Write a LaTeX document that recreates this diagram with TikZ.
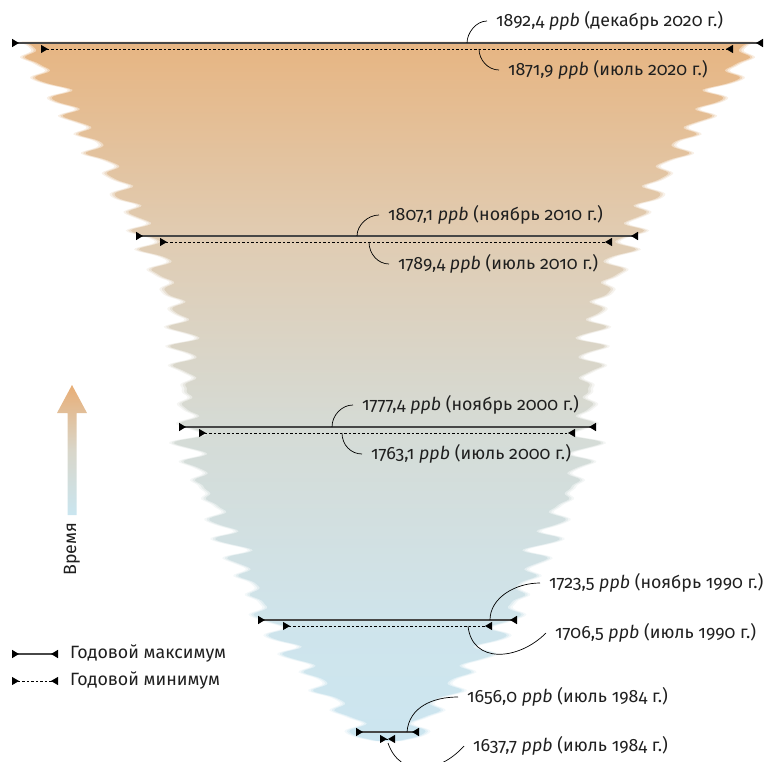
\documentclass[tikz,border=0pt]{standalone}
\usepackage{fontspec}
\setmainfont{Fira Sans}[Numbers=OldStyle]
\usetikzlibrary{arrows.meta}
\pgfdeclareverticalshading{funnelshade}{100bp}{rgb(0bp)=(0.80,0.90,0.94); rgb(25bp)=(0.80,0.90,0.94); rgb(33bp)=(0.81,0.895,0.925); rgb(47bp)=(0.835,0.86,0.84); rgb(61bp)=(0.88,0.80,0.70); rgb(75bp)=(0.905,0.71,0.51); rgb(100bp)=(0.905,0.71,0.51)}
\pgfdeclareverticalshading{arrowshade}{100bp}{rgb(0bp)=(0.79,0.90,0.94); rgb(25bp)=(0.79,0.90,0.94); rgb(50bp)=(0.85,0.84,0.79); rgb(75bp)=(0.91,0.68,0.46); rgb(100bp)=(0.91,0.68,0.46)}
\begin{document}
\begin{tikzpicture}[x=1pt,y=-1pt,
  font=\fontsize{17.8}{20}\selectfont,
  declare function={
    trend(\t)=1647+0.9442*\t-0.4242*max(\t-72,0)-0.4308*max(\t-174,0)+0.3692*max(\t-264,0)+0.1133*max(\t-312,0)+0.1975*max(\t-354,0);
    seas(\t)=-6.5*cos(30*\t)+2.5*sin(30*\t)*cos(30*\t);
    nz(\t)=2.4*sin(23.7*\t)+2*sin(35.3*\t)+1.6*sin(13.9*\t+40);
    hw(\t)=max(1.453*(trend(\t)+seas(\t)+nz(\t)-1634.7),1);
    yy(\t)=741-1.6*\t;
  },
  endtip/.style={arrows={Triangle[reversed,length=7pt,width=8pt,color=black]-Triangle[reversed,length=7pt,width=8pt,color=black]}},
  maxline/.style={draw=black!72, line width=1.5pt, endtip},
  minline/.style={draw=black, line width=0.9pt, dash pattern=on 2.5pt off 2pt, endtip},
  leader/.style={draw=black, line width=0.7pt},
  lab/.style={anchor=west, inner xsep=9pt, inner ysep=0pt, text=black!88},
  legtext/.style={anchor=west, inner sep=0pt, text=black!88}
]
\useasboundingbox (0,0) rectangle (771,762);

% funnel shape
\foreach \ex/\op in {5/0.25, 2.5/0.45, 0/1}{
  \path[shade, shading=funnelshade, opacity=\op]
    plot[domain=0:437, samples=438, variable=\u] ({387.5-hw(\u)-\ex},{yy(\u)})
    -- plot[domain=0:437, samples=438, variable=\u] ({387.5+hw(437-\u)+\ex},{yy(437-\u)})
    -- cycle;
}

% time arrow
\shade[shading=arrowshade] (67.5,515) -- (67.5,413) -- (57,413) -- (72,385) -- (87,413) -- (76.5,413) -- (76.5,515) -- cycle;
\node[rotate=90, text=black!88] (vremya) at (72,549) {Время};

% 2020
\coordinate (a20) at (12,43); \coordinate (b20) at (763,43);
\coordinate (c20) at (41,49); \coordinate (d20) at (733,49);
\draw[maxline] (a20) -- (b20);
\draw[minline] (c20) -- (d20);
\node[lab] (l20max) at (487,21) {1892,4 \textit{ppb} (декабрь 2020 г.)};
\node[lab] (l20min) at (499,70) {1871,9 \textit{ppb} (июль 2020 г.)};
\coordinate (p20max) at (467,43); \coordinate (p20min) at (479,49);
\draw[leader] (p20max) .. controls +(0,-10) and +(-11,0) .. (l20max.west);
\draw[leader] (p20min) .. controls +(0,11) and +(-11,0) .. (l20min.west);

% 2010
\coordinate (a10) at (136,236); \coordinate (b10) at (638,236);
\coordinate (c10) at (160,242); \coordinate (d10) at (612,242);
\draw[maxline] (a10) -- (b10);
\draw[minline] (c10) -- (d10);
\node[lab] (l10max) at (379,215) {1807,1 \textit{ppb} (ноябрь 2010 г.)};
\node[lab] (l10min) at (389,264) {1789,4 \textit{ppb} (июль 2010 г.)};
\coordinate (p10max) at (357,236); \coordinate (p10min) at (369,242);
\draw[leader] (p10max) .. controls +(0,-11) and +(-11,0) .. (l10max.west);
\draw[leader] (p10min) .. controls +(0,12) and +(-11,0) .. (l10min.west);

% 2000
\coordinate (a00) at (179,427); \coordinate (b00) at (596,427);
\coordinate (c00) at (199,433); \coordinate (d00) at (575,433);
\draw[maxline] (a00) -- (b00);
\draw[minline] (c00) -- (d00);
\node[lab] (l00max) at (353,405) {1777,4 \textit{ppb} (ноябрь 2000 г.)};
\node[lab] (l00min) at (362,454) {1763,1 \textit{ppb} (июль 2000 г.)};
\coordinate (p00max) at (332,427); \coordinate (p00min) at (342,433);
\draw[leader] (p00max) .. controls +(0,-12) and +(-11,0) .. (l00max.west);
\draw[leader] (p00min) .. controls +(0,12) and +(-11,0) .. (l00min.west);

% 1990
\coordinate (a90) at (258,620); \coordinate (b90) at (517,620);
\coordinate (c90) at (283,626); \coordinate (d90) at (492,626);
\draw[maxline] (a90) -- (b90);
\draw[minline] (c90) -- (d90);
\node[lab] (l90max) at (540,583) {1723,5 \textit{ppb} (ноябрь 1990 г.)};
\node[lab] (l90min) at (546,633) {1706,5 \textit{ppb} (июль 1990 г.)};
\coordinate (p90max) at (490,620); \coordinate (p90min) at (468,626);
\draw[leader] (p90max) .. controls +(0,-22) and +(-25,0) .. (l90max.west);
\draw[leader] (p90min) .. controls +(4,38) and +(-28,28) .. (l90min.west);

% 1984
\coordinate (a84) at (356,732); \coordinate (b84) at (419,732);
\coordinate (c84) at (380,739); \coordinate (d84) at (395,739);
\draw[maxline] (a84) -- (b84);
\draw[minline] (c84) -- (d84);
\node[lab] (l84max) at (458,697) {1656,0 \textit{ppb} (июль 1984 г.)};
\node[lab] (l84min) at (464,746) {1637,7 \textit{ppb} (июль 1984 г.)};
\coordinate (p84max) at (407,732); \coordinate (p84min) at (388,743);
\draw[leader] (p84max) .. controls +(2,-25) and +(-25,0) .. (l84max.west);
\draw[leader] (p84min) .. controls +(12,35) and +(-25,28) .. (l84min.west);

% legend
\coordinate (g1a) at (12,654); \coordinate (g1b) at (58,654);
\coordinate (g2a) at (12,681); \coordinate (g2b) at (58,681);
\draw[maxline] (g1a) -- (g1b);
\draw[minline] (g2a) -- (g2b);
\node[legtext] (gt1) at (70,654) {Годовой максимум};
\node[legtext] (gt2) at (70,681) {Годовой минимум};
\end{tikzpicture}
\end{document}
